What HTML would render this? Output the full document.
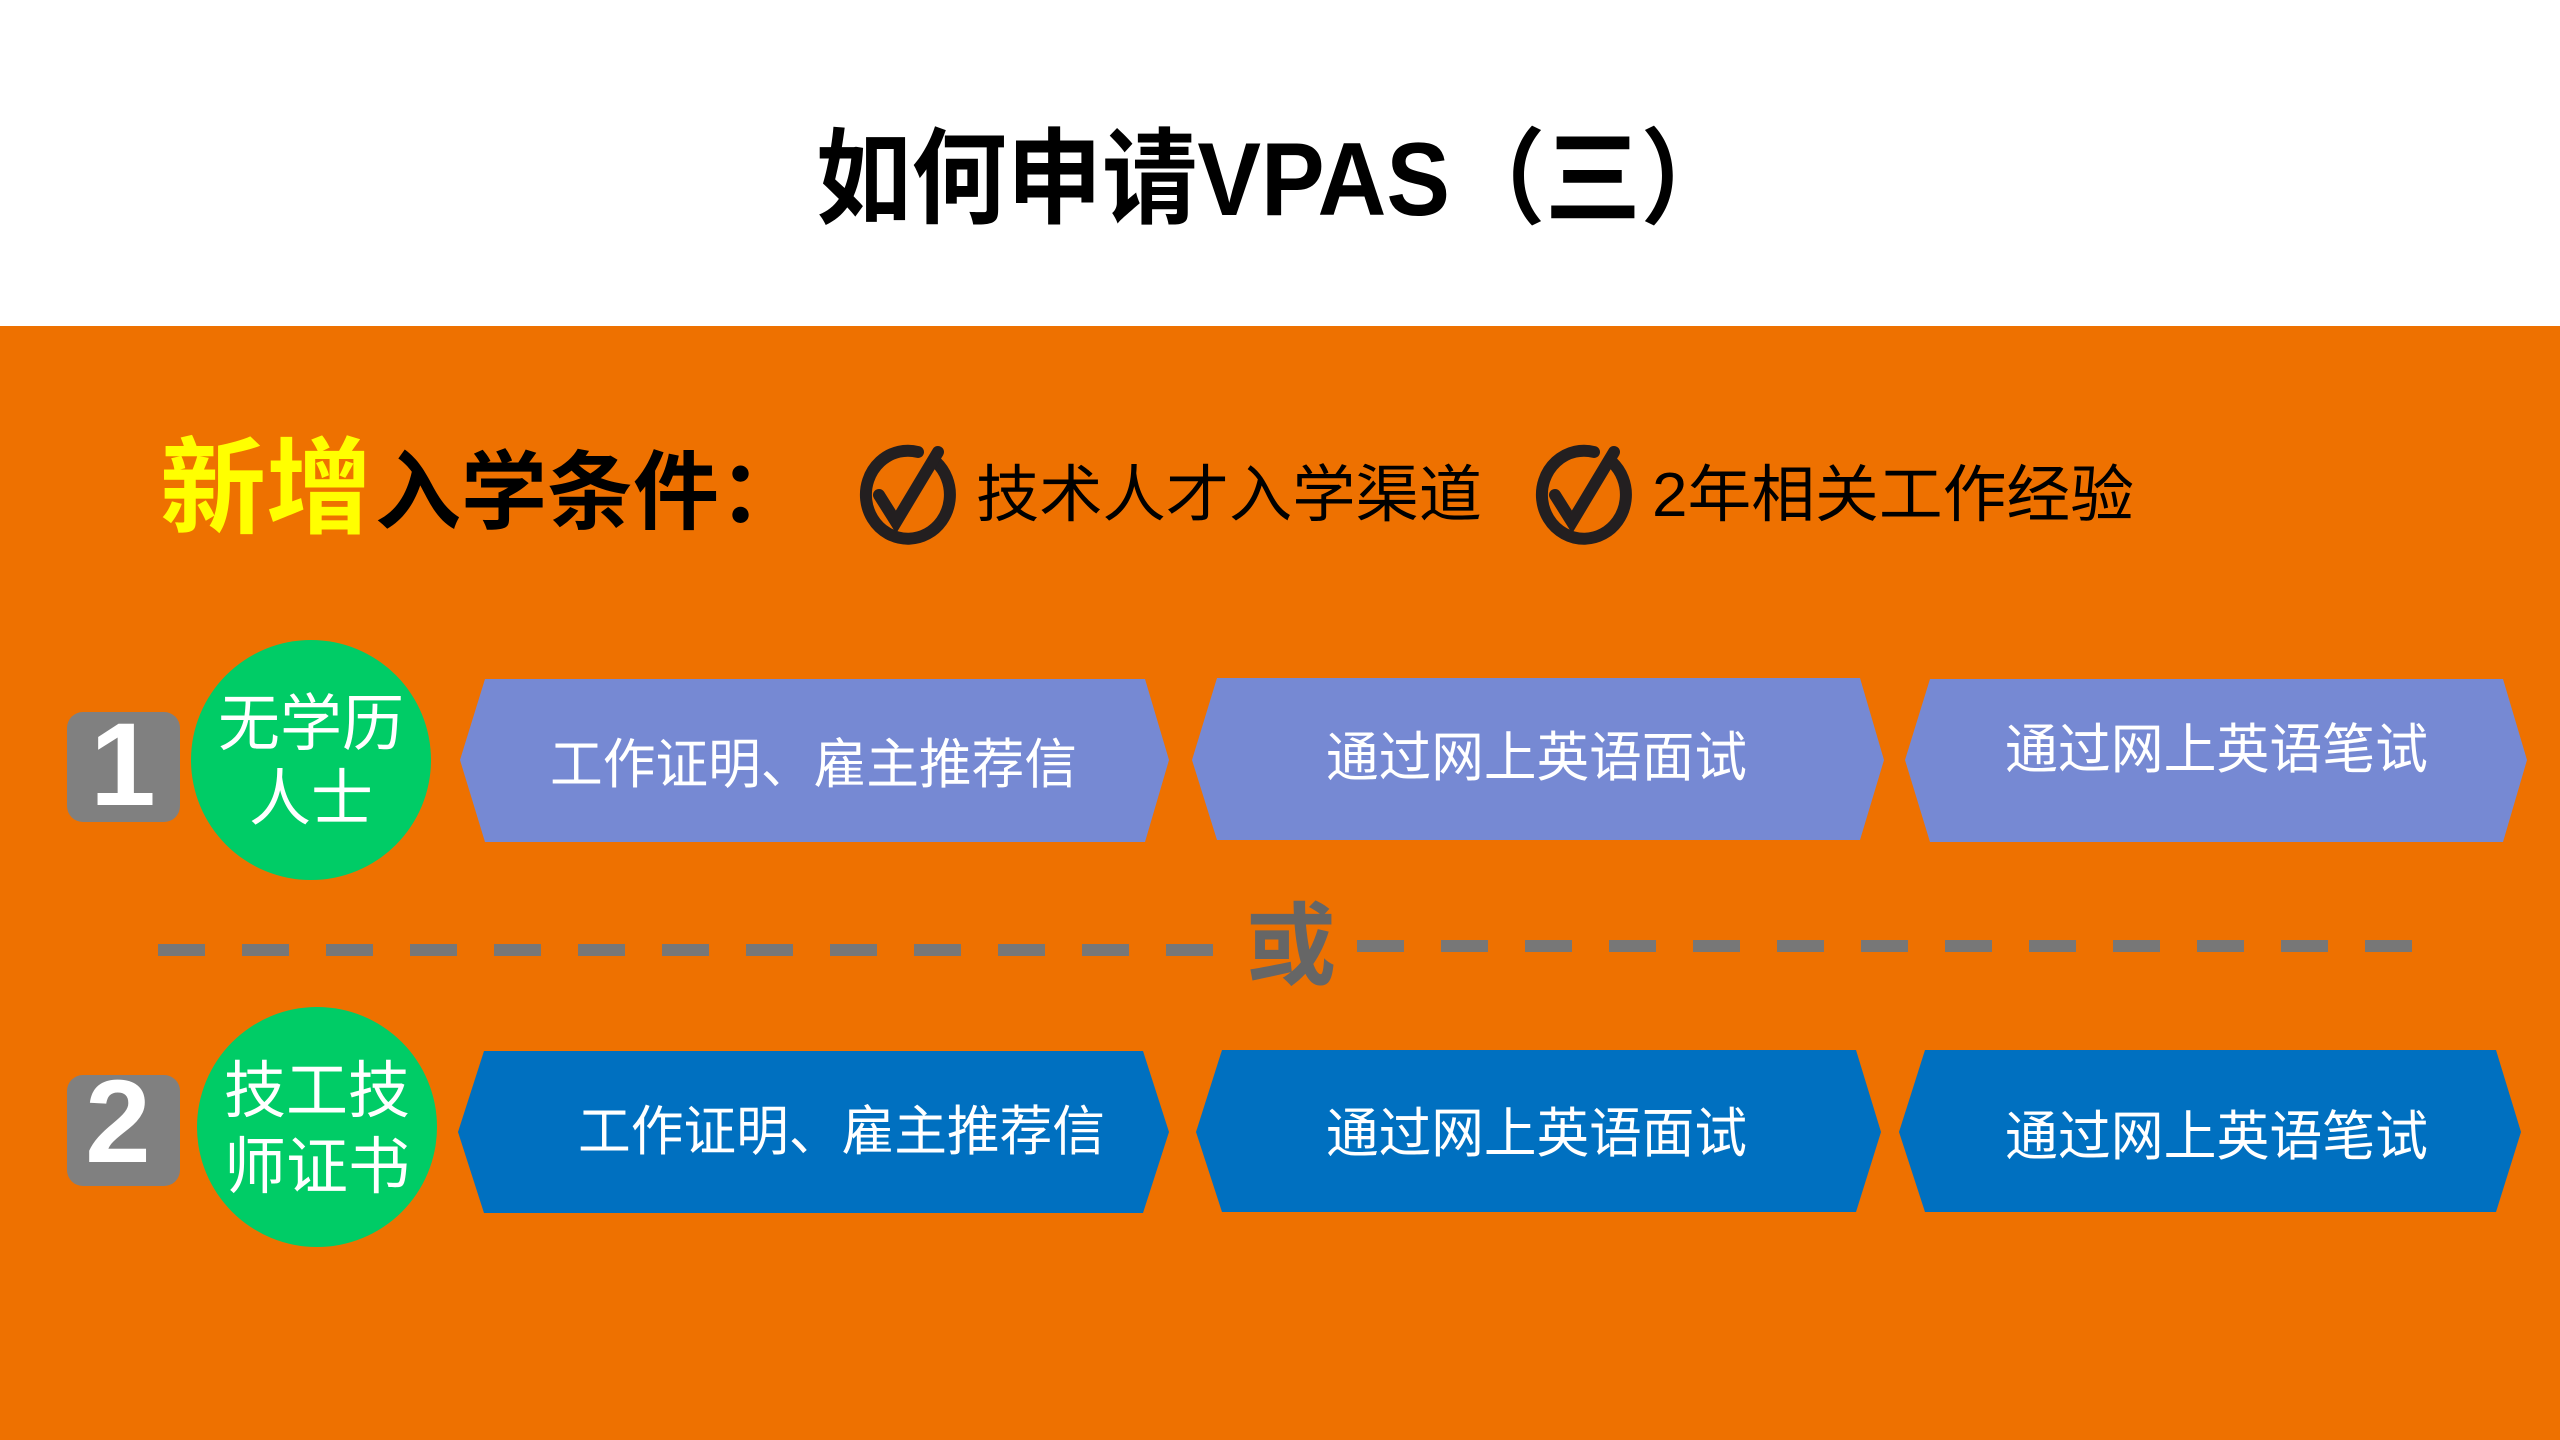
<!DOCTYPE html>
<html><head><meta charset="utf-8"><style>
html,body{margin:0;padding:0;width:2560px;height:1440px;overflow:hidden;background:#fff}
svg{display:block}
text{font-family:"Liberation Sans","Noto Sans CJK SC",sans-serif}
</style></head><body>
<svg width="2560" height="1440" viewBox="0 0 2560 1440" xmlns="http://www.w3.org/2000/svg">
<rect x="0" y="0" width="2560" height="326" fill="#fff"/>
<rect x="0" y="326" width="2560" height="1114" fill="#EE7100"/>
<text x="816" y="215" font-size="104" font-weight="bold" fill="#000" textLength="920" lengthAdjust="spacingAndGlyphs">如何申请VPAS（三）</text>

<text x="160" y="525" font-size="105" font-weight="bold" fill="#FFFF00" textLength="212" lengthAdjust="spacingAndGlyphs">新增</text>
<text x="375" y="522" font-size="86" font-weight="bold" fill="#000" textLength="430" lengthAdjust="spacingAndGlyphs">入学条件：</text>

<g fill="none" stroke="#231F20" stroke-width="12" stroke-linecap="round">
<path d="M936 462 A42 44 0 1 1 918 452"/>
<path d="M879 495 L896 522 L938 452" stroke-width="12"/>
<path d="M1612 462 A42 44 0 1 1 1594 452"/>
<path d="M1555 495 L1572 522 L1614 452" stroke-width="12"/>
</g>
<text x="976" y="516" font-size="62" fill="#000" textLength="506" lengthAdjust="spacingAndGlyphs">技术人才入学渠道</text>
<text x="1652" y="516" font-size="62" fill="#000" textLength="482" lengthAdjust="spacingAndGlyphs">2年相关工作经验</text>

<!-- row 1 -->
<rect x="67" y="712" width="113" height="110" rx="16" fill="#808080"/>
<text x="123" y="805" font-size="118" font-weight="bold" fill="#fff" text-anchor="middle">1</text>
<ellipse cx="311" cy="760" rx="120" ry="120" fill="#00CC66"/>
<text x="311" y="745" font-size="62" fill="#fff" text-anchor="middle">无学历</text>
<text x="311" y="820" font-size="62" fill="#fff" text-anchor="middle">人士</text>

<polygon points="460,760 485,679 1145,679 1169,760 1145,842 485,842" fill="#7689D3"/>
<polygon points="1192,760 1217,678 1860,678 1884,760 1860,840 1217,840" fill="#7689D3"/>
<polygon points="1905,760 1930,679 2503,679 2527,760 2503,842 1930,842" fill="#7689D3"/>
<text x="550" y="783" font-size="54" fill="#fff" textLength="527" lengthAdjust="spacingAndGlyphs">工作证明、雇主推荐信</text>
<text x="1326" y="776" font-size="54" fill="#fff" textLength="421" lengthAdjust="spacingAndGlyphs">通过网上英语面试</text>
<text x="2005" y="768" font-size="54" fill="#fff" textLength="423" lengthAdjust="spacingAndGlyphs">通过网上英语笔试</text>

<!-- divider -->
<line x1="158" y1="950" x2="1213" y2="950" stroke="#777" stroke-width="12" stroke-dasharray="47 37"/>
<line x1="1357" y1="946" x2="2413" y2="946" stroke="#777" stroke-width="12" stroke-dasharray="47 37"/>
<text x="1291" y="977" font-size="90" font-weight="bold" fill="#666" text-anchor="middle">或</text>

<!-- row 2 -->
<rect x="67" y="1075" width="113" height="111" rx="16" fill="#808080"/>
<text x="118" y="1162" font-size="118" font-weight="bold" fill="#fff" text-anchor="middle">2</text>
<ellipse cx="317" cy="1127" rx="120" ry="120" fill="#00CC66"/>
<text x="317" y="1112" font-size="62" fill="#fff" text-anchor="middle">技工技</text>
<text x="317" y="1188" font-size="62" fill="#fff" text-anchor="middle">师证书</text>

<polygon points="458,1132 484,1051 1143,1051 1169,1132 1143,1213 484,1213" fill="#0070C0"/>
<polygon points="1196,1132 1222,1050 1856,1050 1881,1132 1856,1212 1222,1212" fill="#0070C0"/>
<polygon points="1899,1132 1925,1050 2496,1050 2521,1132 2496,1212 1925,1212" fill="#0070C0"/>
<text x="578" y="1150" font-size="54" fill="#fff" textLength="527" lengthAdjust="spacingAndGlyphs">工作证明、雇主推荐信</text>
<text x="1326" y="1152" font-size="54" fill="#fff" textLength="421" lengthAdjust="spacingAndGlyphs">通过网上英语面试</text>
<text x="2005" y="1155" font-size="54" fill="#fff" textLength="423" lengthAdjust="spacingAndGlyphs">通过网上英语笔试</text>
</svg>
</body></html>
